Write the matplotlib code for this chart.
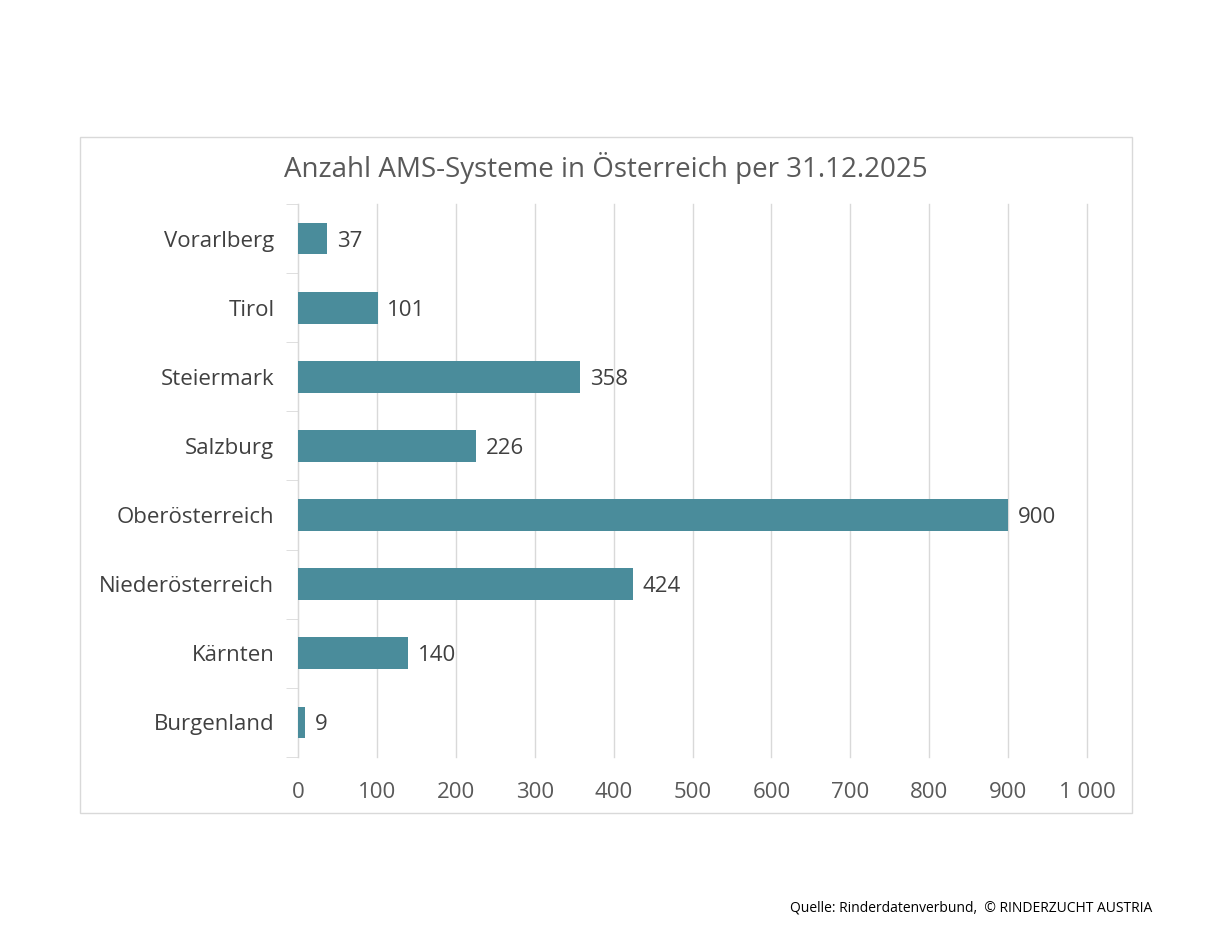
import matplotlib
matplotlib.use("Agg")
import matplotlib.pyplot as plt
from matplotlib.patches import Rectangle
from matplotlib.ticker import FuncFormatter

plt.rcParams['font.family'] = ['Open Sans', 'DejaVu Sans']

# data (bottom to top, as drawn)
regions = ['Burgenland', 'Kärnten', 'Niederösterreich', 'Oberösterreich',
           'Salzburg', 'Steiermark', 'Tirol', 'Vorarlberg']
counts = [9, 140, 424, 900, 226, 358, 101, 37]
x_ticks = [0, 100, 200, 300, 400, 500, 600, 700, 800, 900, 1000]

title = 'Anzahl AMS-Systeme in Österreich per 31.12.2025'
source = 'Quelle: Rinderdatenverbund,  © RINDERZUCHT AUSTRIA'

bar_color = '#4a8c9b'
grid_color = '#d9d9d9'
text_color = '#404040'

fig = plt.figure(figsize=(12.3, 9.48), dpi=100)

# outer chart frame
fig.patches.append(Rectangle((80 / 1230, 1 - 813 / 948), (1132 - 80) / 1230, (813 - 137) / 948,
                             transform=fig.transFigure, fill=False,
                             edgecolor='#d9d9d9', linewidth=1))

ax = fig.add_axes([298 / 1230, 1 - 757 / 948, (1087 - 298) / 1230, (757 - 204) / 948])

y = list(range(len(regions)))
ax.barh(y, counts, height=0.46, color=bar_color, zorder=3)
for yi, v in zip(y, counts):
    ax.text(v + 12, yi, str(v), va='center_baseline', ha='left', fontsize=16,
            color=text_color)

ax.set_xlim(0, 1000)
ax.set_ylim(-0.5, len(regions) - 0.5)
ax.set_xticks(x_ticks)
ax.xaxis.set_major_formatter(FuncFormatter(lambda v, p: f'{int(v):,}'.replace(',', ' ')))
ax.set_yticks(y)
ax.set_yticklabels(regions)

ax.grid(axis='x', color=grid_color, linewidth=1, zorder=0)
for gl in ax.get_xgridlines():
    gl.set_clip_on(False)
for s in ['top', 'right', 'bottom']:
    ax.spines[s].set_visible(False)
ax.spines['left'].set_color(grid_color)

# category separators on the left axis
ax.set_yticks([i - 0.5 for i in range(len(regions) + 1)], minor=True)
ax.tick_params(axis='y', which='major', length=0, pad=17, labelsize=16,
               labelcolor=text_color)
ax.tick_params(axis='y', which='minor', length=9, color=grid_color)
ax.tick_params(axis='x', length=0, pad=18, labelsize=16, labelcolor='#595959')

fig.text(606 / 1230, 1 - 168 / 948, title, ha='center', va='center',
         fontsize=20, color='#595959')
fig.text(1152 / 1230, 1 - 908 / 948, source, ha='right', va='center',
         fontsize=10, color='black')

fig.savefig('out.png', dpi=100)
